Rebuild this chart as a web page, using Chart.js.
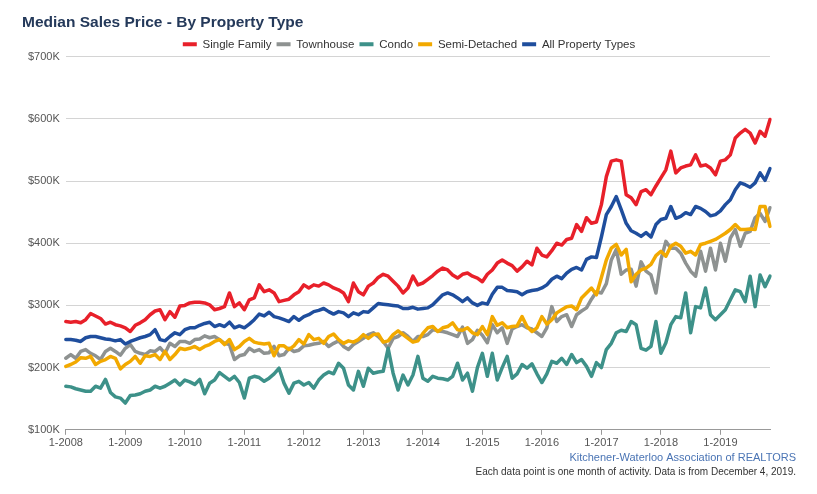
<!DOCTYPE html>
<html>
<head>
<meta charset="utf-8">
<title>Median Sales Price - By Property Type</title>
<script src="https://cdn.jsdelivr.net/npm/chart.js@4.4.0/dist/chart.umd.min.js"></script>
<style>
  html, body { margin: 0; padding: 0; background: #fff; }
  #chart-container { width: 817px; height: 494px; }
</style>
</head>
<body>
<div id="chart-container"><canvas id="priceChart" width="817" height="494"></canvas></div>
<script>
// monthly median prices in $K, Jan 2008 - Nov 2019
const singleFamily = [
  274, 273, 274, 272, 277, 287, 283, 279, 270, 273, 269, 267,
  264, 258, 268, 272, 277, 285, 291, 293, 277, 290, 281, 299,
  300, 304, 305, 305, 304, 301, 293, 295, 298, 320, 298, 304,
  293, 309, 312, 333, 322, 325, 320, 306, 308, 310, 317, 322,
  333, 328, 333, 331, 336, 333, 328, 325, 320, 306, 336, 322,
  317, 331, 336, 345, 350, 347, 339, 331, 320, 328, 347, 333,
  336, 342, 348, 355, 360, 357, 349, 344, 350, 352, 347, 344,
  338, 350, 357, 368, 373, 368, 364, 355, 362, 371, 365, 392,
  381, 378, 388, 400, 397, 406, 408, 430, 419, 441, 432, 434,
  462, 507, 532, 534, 532, 478, 473, 462, 483, 486, 478, 492,
  505, 518, 548, 513, 521, 524, 526, 542, 524, 526, 521, 510,
  532, 534, 542, 569, 577, 583, 577, 561, 580, 572, 599
];
const townhouse = [
  215, 221, 215, 226, 229, 223, 219, 213, 226, 231, 226, 220,
  231, 237, 226, 223, 221, 227, 226, 232, 223, 239, 234, 242,
  242, 239, 245, 246, 251, 248, 250, 245, 239, 237, 213, 219,
  221, 231, 226, 229, 223, 224, 234, 219, 221, 231, 226, 228,
  235, 236, 238, 239, 242, 234, 239, 243, 234, 229, 237, 242,
  247, 253, 256, 250, 242, 231, 247, 250, 256, 250, 242, 250,
  250, 253, 261, 259, 258, 256, 253, 250, 265, 239, 245, 260,
  252, 240, 269, 256, 264, 239, 262, 266, 269, 264, 262, 256,
  250, 264, 298, 274, 282, 285, 266, 285, 291, 296, 310, 322,
  320, 335, 373, 390, 350, 357, 358, 331, 370, 355, 349, 320,
  373, 403, 392, 392, 384, 368, 355, 347, 387, 355, 392, 357,
  400, 371, 408, 422, 395, 416, 419, 441, 448, 435, 457
];
const condo = [
  170, 169, 166, 164, 162, 162, 170, 167, 181, 160, 153, 151,
  143, 155, 156, 158, 162, 164, 170, 167, 170, 175, 180, 172,
  180, 177, 173, 181, 158, 175, 180, 192, 186, 180, 186, 176,
  151, 183, 186, 184, 178, 183, 190, 199, 175, 159, 175, 178,
  172, 176, 167, 180, 188, 193, 190, 207, 199, 172, 164, 194,
  170, 199, 191, 193, 194, 231, 191, 164, 188, 172, 188, 218,
  183, 178, 186, 183, 182, 180, 186, 207, 180, 191, 162, 200,
  223, 186, 223, 180, 200, 218, 183, 190, 205, 199, 206, 190,
  176, 190, 210, 207, 215, 205, 221, 208, 213, 202, 186, 208,
  200, 229, 239, 256, 260, 258, 274, 269, 231, 228, 234, 274,
  223, 240, 269, 282, 280, 320, 256, 298, 296, 328, 285, 277,
  285, 293, 309, 325, 322, 306, 347, 298, 349, 330, 347
];
const semiDetached = [
  202, 205, 209, 216, 215, 218, 205, 210, 213, 218, 215, 198,
  205, 210, 218, 207, 219, 218, 221, 213, 226, 213, 221, 231,
  229, 231, 234, 229, 234, 237, 242, 245, 237, 245, 229, 234,
  242, 247, 241, 239, 238, 239, 219, 235, 235, 229, 235, 245,
  238, 253, 245, 247, 239, 250, 254, 245, 239, 243, 241, 245,
  253, 247, 253, 254, 241, 243, 253, 259, 253, 247, 241, 243,
  255, 264, 266, 258, 264, 266, 272, 261, 260, 264, 256, 253,
  266, 253, 282, 268, 272, 264, 266, 267, 282, 266, 258, 264,
  282, 270, 277, 288, 293, 298, 299, 293, 312, 320, 328, 317,
  345, 373, 392, 398, 381, 390, 338, 350, 357, 360, 366, 380,
  387, 379, 395, 400, 395, 384, 387, 381, 398, 400, 403, 406,
  411, 416, 422, 430, 422, 422, 423, 422, 459, 459, 427
];
const allTypes = [
  245, 245, 244, 242, 248, 250, 250, 248, 246, 245, 243, 245,
  238, 242, 245, 248, 250, 253, 261, 245, 243, 250, 256, 253,
  261, 264, 264, 268, 271, 273, 266, 269, 266, 273, 264, 267,
  264, 270, 277, 286, 283, 289, 282, 280, 277, 274, 282, 276,
  282, 285, 290, 292, 295, 290, 286, 290, 288, 282, 288, 285,
  290, 289, 296, 303, 302, 301, 300, 299, 295, 295, 297, 294,
  295, 296, 301, 309, 317, 320, 317, 312, 306, 312, 304, 300,
  304, 302, 318, 329, 329, 324, 323, 322, 317, 322, 324, 325,
  328, 333, 342, 347, 343, 352, 358, 361, 357, 374, 378, 377,
  410, 446, 459, 475, 454, 432, 420, 416, 411, 417, 410, 430,
  438, 440, 459, 440, 443, 449, 446, 459, 456, 451, 444, 446,
  452, 462, 470, 486, 497, 494, 490, 497, 513, 501, 520
];

const seriesNames = ['Single Family', 'Townhouse', 'Condo', 'Semi-Detached', 'All Property Types'];
const seriesColors = ['#e8202a', '#8e9291', '#3d9189', '#f2a900', '#1f4e9d'];
const yTicks = [100, 200, 300, 400, 500, 600, 700];

const startYear = 2008;
const sourceText = 'Kitchener-Waterloo Association of REALTORS';
const noteText = 'Each data point is one month of activity. Data is from December 4, 2019.';

// month labels like "1-2008", only januaries get shown on the axis
const monthLabels = singleFamily.map((v, i) => `${(i % 12) + 1}-${startYear + Math.floor(i / 12)}`);

const fontFamily = 'Arial, "Liberation Sans", Helvetica, sans-serif';
Chart.defaults.font.family = fontFamily;

// footer lines under the x axis
const footerText = {
  id: 'footerText',
  afterDraw(chart) {
    const ctx = chart.ctx;
    ctx.save();
    ctx.textAlign = 'right';
    ctx.textBaseline = 'middle';
    ctx.font = `11px ${fontFamily}`;
    ctx.fillStyle = '#4a74b4';
    ctx.fillText(sourceText, 796, 458);
    ctx.font = `10px ${fontFamily}`;
    ctx.fillStyle = '#333333';
    ctx.fillText(noteText, 796, 472);
    ctx.restore();
  }
};

const allSeries = [singleFamily, townhouse, condo, semiDetached, allTypes];

const chart = new Chart(document.getElementById('priceChart'), {
  type: 'line',
  data: {
    labels: monthLabels,
    datasets: allSeries.map((values, i) => ({
      label: seriesNames[i],
      data: values,
      borderColor: seriesColors[i],
      backgroundColor: seriesColors[i],
      borderWidth: 3.5,
      borderJoinStyle: 'round',
      borderCapStyle: 'round',
      pointRadius: 0,
      tension: 0,
      order: allSeries.length - i   // later series on top, like the original
    }))
  },
  options: {
    responsive: false,
    animation: false,
    layout: { padding: { left: 22, right: 21, top: 0, bottom: 42 } },
    plugins: {
      title: {
        display: true,
        text: 'Median Sales Price - By Property Type',
        align: 'start',
        color: '#24395a',
        font: { size: 15.5, weight: 'bold' },
        padding: { top: 13, bottom: 2 }
      },
      legend: {
        display: true,
        maxHeight: 23,
        labels: {
          color: '#333333',
          font: { size: 11.5 },
          boxWidth: 14,
          boxHeight: 4,
          padding: 5,
          sort: (a, b) => a.datasetIndex - b.datasetIndex,
          generateLabels: c => Chart.defaults.plugins.legend.labels.generateLabels(c).map(l => ({ ...l, lineWidth: 0 }))
        }
      },
      tooltip: { enabled: false }
    },
    scales: {
      x: {
        type: 'category',
        grid: {
          display: true,
          drawOnChartArea: false,
          drawTicks: true,
          tickLength: 5,
          color: ctx => (ctx.index % 12 === 0 ? '#999999' : 'rgba(0,0,0,0)')
        },
        border: { display: true, color: '#999999' },
        ticks: {
          autoSkip: false,
          maxRotation: 0,
          color: '#555555',
          font: { size: 11 },
          padding: 2,
          callback: function (value, index) {
            const label = this.getLabelForValue(value);
            return label.startsWith('1-') ? label : '';
          }
        }
      },
      y: {
        min: yTicks[0],
        max: yTicks[yTicks.length - 1],
        grid: { color: '#d4d4d4', drawTicks: false },
        border: { display: false },
        afterBuildTicks: scale => { scale.ticks = yTicks.map(v => ({ value: v })); },
        ticks: {
          color: '#555555',
          font: { size: 11 },
          padding: 6,
          callback: v => '$' + v + 'K'
        }
      },
      // empty axis that only keeps room on the right side
      spacer: {
        type: 'linear',
        position: 'right',
        grid: { display: false },
        border: { display: false },
        ticks: { display: false },
        afterFit: scale => { scale.width = 26; }
      }
    }
  },
  plugins: [footerText]
});
</script>
</body>
</html>
